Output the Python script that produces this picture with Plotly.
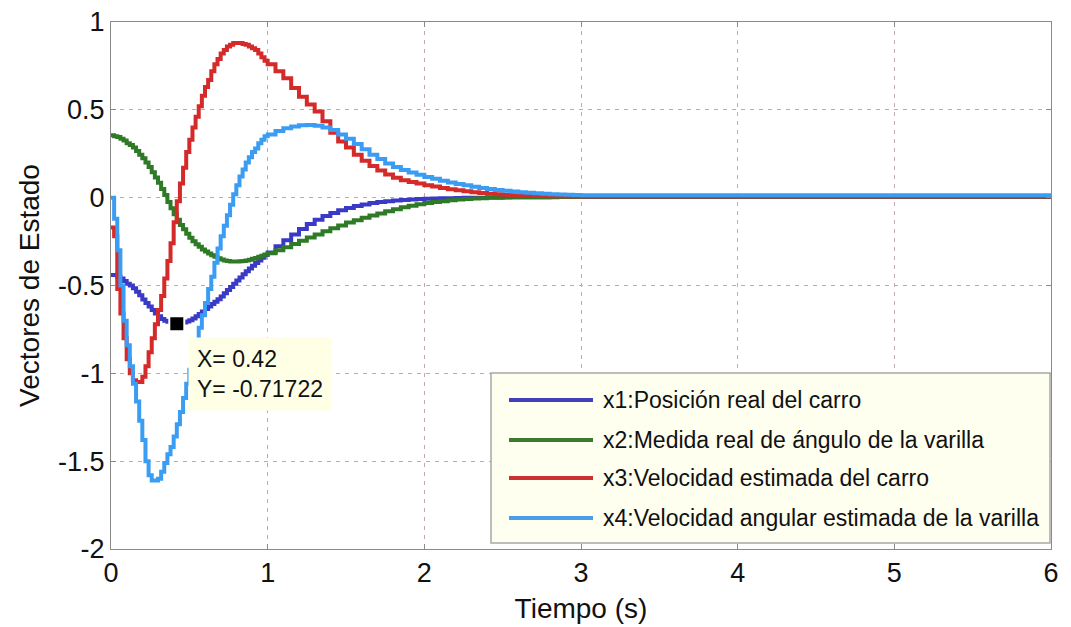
import numpy as np
import plotly.graph_objects as go

# ---------------- data ----------------
# sample times (s): 0.02 s steps up to 1 s, 0.05 s steps up to 3 s, then final sample at 6 s
t = np.round(np.r_[np.arange(0, 1.0001, 0.02), np.arange(1.05, 3.0001, 0.05), 6.0], 2)

x1_posicion = [
    -0.44, -0.44, -0.45, -0.46, -0.475, -0.49, -0.50, -0.515, -0.535, -0.555,
    -0.58, -0.60, -0.62, -0.64, -0.66, -0.675, -0.69, -0.70, -0.706, -0.711,
    -0.715, -0.71722, -0.715, -0.71, -0.705, -0.698, -0.688, -0.675, -0.662, -0.648,
    -0.634, -0.62, -0.606, -0.593, -0.578, -0.562, -0.544, -0.526, -0.508, -0.49,
    -0.472, -0.454, -0.436, -0.419, -0.403, -0.387, -0.372, -0.357, -0.342, -0.327,
    -0.312,
    -0.277, -0.243, -0.21, -0.178, -0.15, -0.126, -0.105, -0.087, -0.072, -0.059,
    -0.048, -0.039, -0.031, -0.025, -0.02, -0.016, -0.013, -0.01, -0.008, -0.006,
    -0.005, -0.004, -0.003, -0.002, -0.001, 0.0, 0.0, 0.001, 0.001, 0.002,
    0.002, 0.002, 0.003, 0.003, 0.003, 0.003, 0.004, 0.004, 0.004, 0.004,
    0.004,
]

x2_angulo = [
    0.355, 0.35, 0.345, 0.335, 0.325, 0.31, 0.30, 0.285, 0.265, 0.245,
    0.225, 0.20, 0.175, 0.145, 0.115, 0.085, 0.05, 0.015, -0.025, -0.06,
    -0.095, -0.125, -0.155, -0.18, -0.205, -0.228, -0.248, -0.265, -0.28, -0.295,
    -0.307, -0.318, -0.328, -0.337, -0.345, -0.352, -0.357, -0.361, -0.363, -0.364,
    -0.364, -0.362, -0.36, -0.357, -0.353, -0.348, -0.343, -0.337, -0.331, -0.324,
    -0.317,
    -0.30, -0.282, -0.264, -0.245, -0.227, -0.209, -0.191, -0.174, -0.158, -0.142,
    -0.128, -0.115, -0.102, -0.09, -0.078, -0.066, -0.055, -0.046, -0.038, -0.031,
    -0.025, -0.02, -0.015, -0.011, -0.008, -0.005, -0.003, -0.001, 0.0, 0.001,
    0.002, 0.002, 0.003, 0.003, 0.003, 0.004, 0.004, 0.004, 0.004, 0.005,
    0.005,
]

x3_velocidad = [
    -0.17, -0.22, -0.52, -0.66, -0.80, -0.92, -1.00, -1.04, -1.05, -1.05,
    -1.02, -0.96, -0.88, -0.80, -0.72, -0.64, -0.56, -0.46, -0.36, -0.26,
    -0.14, -0.02, 0.08, 0.17, 0.26, 0.33, 0.40, 0.46, 0.52, 0.58,
    0.63, 0.67, 0.72, 0.76, 0.79, 0.82, 0.84, 0.86, 0.87, 0.88,
    0.88, 0.88, 0.875, 0.87, 0.86, 0.85, 0.84, 0.82, 0.80, 0.78,
    0.76,
    0.72, 0.68, 0.625, 0.575, 0.53, 0.49, 0.435, 0.37, 0.32, 0.285,
    0.245, 0.21, 0.18, 0.155, 0.132, 0.113, 0.099, 0.089, 0.08, 0.071,
    0.063, 0.055, 0.048, 0.042, 0.036, 0.031, 0.027, 0.023, 0.019, 0.016,
    0.014, 0.012, 0.011, 0.01, 0.009, 0.008, 0.008, 0.007, 0.007, 0.007,
    0.006,
]

x4_vel_angular = [
    0.0, -0.12, -0.30, -0.50, -0.70, -0.84, -0.96, -1.06, -1.16, -1.27,
    -1.38, -1.50, -1.58, -1.61, -1.61, -1.60, -1.56, -1.51, -1.46, -1.42,
    -1.36, -1.29, -1.22, -1.14, -1.06, -0.98, -0.90, -0.82, -0.74, -0.67,
    -0.60, -0.52, -0.45, -0.37, -0.29, -0.22, -0.16, -0.10, -0.04, 0.02,
    0.07, 0.12, 0.16, 0.20, 0.23, 0.26, 0.28, 0.31, 0.33, 0.35,
    0.36,
    0.38, 0.395, 0.405, 0.412, 0.414, 0.41, 0.40, 0.385, 0.36, 0.335,
    0.305, 0.275, 0.245, 0.22, 0.195, 0.175, 0.158, 0.143, 0.13, 0.118,
    0.107, 0.097, 0.087, 0.078, 0.07, 0.062, 0.055, 0.049, 0.044, 0.039,
    0.035, 0.031, 0.028, 0.025, 0.022, 0.02, 0.018, 0.016, 0.015, 0.014,
    0.012,
]

series_names = [
    "x1:Posición real del carro",
    "x2:Medida real de ángulo de la varilla",
    "x3:Velocidad estimada del carro",
    "x4:Velocidad angular estimada de la varilla",
]
series_values = [x1_posicion, x2_angulo, x3_velocidad, x4_vel_angular]

x_tick_vals = [0, 1, 2, 3, 4, 5, 6]
x_tick_text = ["0", "1", "2", "3", "4", "5", "6"]
y_tick_vals = [1, 0.5, 0, -0.5, -1, -1.5, -2]
y_tick_text = ["1", "0.5", "0", "-0.5", "-1", "-1.5", "-2"]

datatip_x = 0.42
datatip_y = x1_posicion[list(t).index(datatip_x)]

# ---------------- styles ----------------
line_colors = ["#3a3ac6", "#2f7a27", "#d42a2a", "#3b9cf3"]
legend_colors = ["#3f3fc0", "#3d7a2c", "#cc3030", "#4a9de8"]

W, H = 1071, 627
X0, X1, Y0, Y1 = 111, 1051, 22, 549  # plot area in pixels


def px(xp):
    return (xp - X0) / (X1 - X0)


def py(yp):
    return (Y1 - yp) / (Y1 - Y0)


fig = go.Figure()
for name, vals, col in zip(series_names, series_values, line_colors):
    fig.add_trace(go.Scatter(
        x=t, y=vals, mode="lines", name=name,
        line=dict(color=col, width=4, shape="hv"),
        showlegend=False, hoverinfo="skip",
    ))

# datatip marker
fig.add_trace(go.Scatter(
    x=[datatip_x], y=[datatip_y], mode="markers",
    marker=dict(symbol="square", size=15, color="black",
                line=dict(color="white", width=2)),
    showlegend=False, hoverinfo="skip",
))

tick_font = dict(family="Liberation Sans, Arial, sans-serif", size=27, color="#111")
title_font = dict(family="Liberation Sans, Arial, sans-serif", size=28, color="#111")
grid_color = "#c4a6b4"

fig.update_xaxes(
    range=[0, 6], tickvals=x_tick_vals, ticktext=x_tick_text,
    showgrid=True, gridcolor=grid_color, griddash="4px,5px", gridwidth=1,
    zeroline=False, showline=True, linecolor="#8a8a8a", linewidth=1, mirror="ticks",
    ticks="inside", ticklen=5, tickcolor="#8a8a8a",
    tickfont=tick_font,
    title=dict(text="Tiempo (s)", font=title_font, standoff=10),
)
fig.update_yaxes(
    range=[-2, 1], tickvals=y_tick_vals, ticktext=y_tick_text,
    showgrid=True, gridcolor=grid_color, griddash="4px,5px", gridwidth=1,
    zeroline=False, showline=True, linecolor="#8a8a8a", linewidth=1, mirror="ticks",
    ticks="inside", ticklen=5, tickcolor="#8a8a8a",
    tickfont=tick_font,
    title=dict(text="Vectores de Estado", font=title_font, standoff=10),
)

# custom legend box (MATLAB style)
leg_left, leg_top, leg_right, leg_bottom = 491, 373, 1050, 543
row_y = [400, 440, 478, 518]
line_x0, line_x1, text_x = 509, 593, 601

shapes = [dict(type="rect", xref="paper", yref="paper",
               x0=px(leg_left), x1=px(leg_right), y0=py(leg_bottom), y1=py(leg_top),
               fillcolor="#fffff0", line=dict(color="#a8a8a8", width=1.5), layer="above")]
annotations = []
for name, col, ry in zip(series_names, legend_colors, row_y):
    shapes.append(dict(type="line", xref="paper", yref="paper",
                       x0=px(line_x0), x1=px(line_x1), y0=py(ry), y1=py(ry),
                       line=dict(color=col, width=4), layer="above"))
    annotations.append(dict(xref="paper", yref="paper", x=px(text_x), y=py(ry),
                            xanchor="left", yanchor="middle", showarrow=False,
                            text=name,
                            font=dict(family="Liberation Sans, Arial, sans-serif",
                                      size=23, color="#111")))

# datatip box
annotations.append(dict(
    xref="x", yref="y", x=datatip_x, y=datatip_y,
    xanchor="left", yanchor="top", xshift=11, yshift=-13,
    showarrow=False, align="left",
    text=f"X= {datatip_x:g}<br>Y= {datatip_y:.5f}",
    bgcolor="#ffffe6", borderpad=8,
    font=dict(family="Liberation Sans, Arial, sans-serif", size=23, color="#111"),
))

fig.update_layout(
    width=W, height=H,
    margin=dict(l=X0, r=W - X1, t=Y0, b=H - Y1, autoexpand=False),
    paper_bgcolor="white", plot_bgcolor="white",
    shapes=shapes, annotations=annotations,
    showlegend=False,
)

fig.write_html("out.html")
